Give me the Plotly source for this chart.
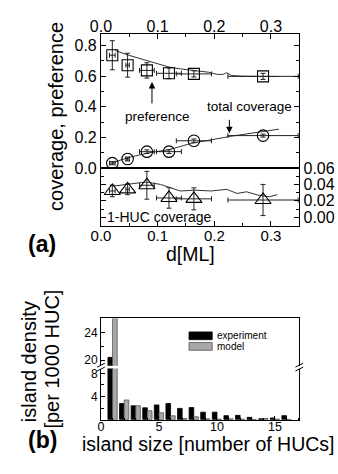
import plotly.graph_objects as go

W, H = 338, 474
FONT = "Liberation Sans"

# ---------------- panel (a) data ----------------
d_ml = [0.020, 0.047, 0.081, 0.120, 0.164, 0.286]
d_err = [0.005, 0.003, 0.013, 0.022, 0.031, 0.062]
preference = [0.737, 0.672, 0.638, 0.619, 0.615, 0.599]
preference_err = [0.095, 0.078, 0.050, 0.035, 0.020, 0.020]
total_cov = [0.032, 0.059, 0.107, 0.107, 0.178, 0.212]
total_cov_err = [0.010, 0.012, 0.012, 0.012, 0.012, 0.010]
huc1_cov = [0.032, 0.034, 0.039, 0.0235, 0.0224, 0.021]
huc1_cov_err = [0.007, 0.0065, 0.017, 0.0125, 0.0134, 0.019]

pref_model_d = [0.025, 0.048, 0.083, 0.120, 0.140, 0.164, 0.190, 0.205, 0.215, 0.222, 0.230, 0.250, 0.280, 0.314]
pref_model = [0.768, 0.738, 0.700, 0.660, 0.648, 0.638, 0.626, 0.612, 0.612, 0.623, 0.605, 0.600, 0.598, 0.598]

cov_model_d = [0.020, 0.050, 0.085, 0.120, 0.160, 0.200, 0.230, 0.270, 0.314]
cov_model = [0.035, 0.070, 0.100, 0.120, 0.162, 0.190, 0.208, 0.230, 0.254]

huc1_model_d = [0.022, 0.060, 0.080, 0.105, 0.140, 0.166, 0.194, 0.222, 0.240, 0.257, 0.277, 0.297, 0.311]
huc1_model = [0.038, 0.041, 0.043, 0.040, 0.032, 0.033, 0.032, 0.034, 0.029, 0.031, 0.027, 0.025, 0.0275]

# ---------------- panel (b) data ----------------
island_size = list(range(1, 17))
density_experiment = [20.4, 2.8, 2.4, 2.05, 2.55, 2.8, 1.95, 2.1, 1.3, 1.3, 0.7, 0.75, 0.4, 0.17, 0.3, 0.7]
density_model = [26.0, 3.4, 2.4, 1.55, 1.2, 0.67, 0.2, 0.5, 0.15, 0.1, 0.15, 0.1, 0.05, 0.2, 0.1, 0.05]


def px(x):
    return x / W


def py(y):
    return 1 - y / H


XD = [px(93), px(298)]
YA_up = [py(166), py(27)]
YA_lo = [py(226), py(166)]
YB_up = [py(371), py(322)]
YB_lo = [py(427), py(374)]

ERR = dict(type="data", thickness=1, width=2.5, color="#222")

fig = go.Figure()

# preference
fig.add_trace(go.Scatter(x=pref_model_d, y=pref_model, mode="lines", xaxis="x2", yaxis="y",
                         line=dict(color="#333", width=1), showlegend=False))
fig.add_trace(go.Scatter(x=d_ml, y=preference, mode="markers", xaxis="x2", yaxis="y",
                         marker=dict(symbol="square-open", size=11, color="black", line=dict(width=1.1)),
                         error_x=dict(array=d_err, **ERR), error_y=dict(array=preference_err, **ERR),
                         showlegend=False))
# total coverage
fig.add_trace(go.Scatter(x=cov_model_d, y=cov_model, mode="lines", xaxis="x2", yaxis="y",
                         line=dict(color="#333", width=1), showlegend=False))
fig.add_trace(go.Scatter(x=d_ml, y=total_cov, mode="markers", xaxis="x2", yaxis="y",
                         marker=dict(symbol="circle-open", size=11.5, color="black", line=dict(width=1.1)),
                         error_x=dict(array=d_err, **ERR), error_y=dict(array=total_cov_err, **ERR),
                         showlegend=False))
# 1-HUC coverage
fig.add_trace(go.Scatter(x=huc1_model_d, y=huc1_model, mode="lines", xaxis="x", yaxis="y2",
                         line=dict(color="#333", width=1), showlegend=False))
fig.add_trace(go.Scatter(x=d_ml, y=huc1_cov, mode="markers", xaxis="x", yaxis="y2",
                         marker=dict(symbol="triangle-up-open", size=14, color="black", line=dict(width=1.1)),
                         error_x=dict(array=d_err, **ERR), error_y=dict(array=huc1_cov_err, **ERR),
                         showlegend=False))

# bars (broken axis: lower and upper segments)
for xa, ya in (("x3", "y3"), ("x4", "y4")):
    fig.add_trace(go.Bar(x=island_size, y=density_experiment, xaxis=xa, yaxis=ya, name="experiment",
                         marker=dict(color="black", line=dict(color="black", width=0.8)), showlegend=False))
    fig.add_trace(go.Bar(x=island_size, y=density_model, xaxis=xa, yaxis=ya, name="model",
                         marker=dict(color="#a8a8a8", line=dict(color="#555", width=0.8)), showlegend=False))

base_ax = dict(showline=True, linecolor="black", linewidth=1, ticks="inside", tickcolor="black",
               showgrid=False, zeroline=False, tickfont=dict(family=FONT, size=16, color="black"))

fig.update_layout(
    width=W, height=H, autosize=False,
    margin=dict(l=0, r=0, t=0, b=0, pad=0),
    paper_bgcolor="white", plot_bgcolor="rgba(0,0,0,0)",
    barmode="group", bargap=0.2, bargroupgap=0,
    showlegend=False,
    font=dict(family=FONT, color="black"),
    xaxis=dict(base_ax, domain=XD, anchor="y2", range=[0, 0.35], tick0=0, dtick=0.1, tickformat=".1f",
               ticklen=5, mirror=True, ticklabelstandoff=-4,
               tickfont=dict(family=FONT, size=15, color="black"),
               minor=dict(ticks="inside", ticklen=3, dtick=0.05, tickcolor="black")),
    xaxis2=dict(base_ax, domain=XD, anchor="y", side="top", matches="x", range=[0, 0.35], tick0=0, dtick=0.1,
                tickformat=".1f", ticklen=5, mirror=True, ticklabelstandoff=-5,
                minor=dict(ticks="inside", ticklen=3, dtick=0.05, tickcolor="black")),
    yaxis=dict(base_ax, domain=YA_up, anchor="x2", side="left", range=[0, 0.8756], tick0=0, dtick=0.2,
               tickformat=".1f", ticklen=5, mirror="ticks",
               minor=dict(ticks="inside", ticklen=3, dtick=0.1, tickcolor="black")),
    yaxis2=dict(base_ax, domain=YA_lo, anchor="x", side="right", range=[-0.0106, 0.06], tick0=0, dtick=0.02,
                tickformat=".2f", ticklen=5, mirror="ticks",
                minor=dict(ticks="inside", ticklen=3, dtick=0.01, tickcolor="black")),
    xaxis3=dict(base_ax, domain=XD, anchor="y3", range=[0, 17.1], tick0=0, dtick=5, ticklen=4,
                ticklabelstandoff=-5,
                tickfont=dict(family=FONT, size=12.5, color="black"),
                minor=dict(ticks="inside", ticklen=2, dtick=1, tickcolor="black")),
    yaxis3=dict(base_ax, domain=YB_lo, anchor="x3", range=[0, 8.83], tickvals=[4, 8], ticklen=4, mirror=True,
                tickfont=dict(family=FONT, size=12, color="black"),
                minor=dict(ticks="inside", ticklen=3, tickvals=[2, 6], tickcolor="black")),
    xaxis4=dict(base_ax, domain=XD, anchor="y4", side="top", matches="x3", range=[0, 17.1],
                ticks="", showticklabels=False),
    yaxis4=dict(base_ax, domain=YB_up, anchor="x4", range=[19.2, 26], tickvals=[20, 24], ticklen=4, mirror=True,
                tickfont=dict(family=FONT, size=12, color="black"),
                minor=dict(ticks="inside", ticklen=3, tickvals=[22], tickcolor="black")),
)

ann_font = dict(family=FONT, size=13.5, color="black")
title_font = dict(family=FONT, size=20, color="black")
C = dict(xanchor="center", yanchor="middle", showarrow=False)
annotations = [
    dict(text="preference", x=0.10, y=0.34, xref="x2", yref="y", font=ann_font, **C),
    dict(text="", x=0.09, y=0.5625, xref="x2", yref="y", showarrow=True, ax=0, ay=23,
         arrowhead=2, arrowsize=1.3, arrowwidth=1, arrowcolor="black", standoff=0),
    dict(text="total coverage", x=0.2625, y=0.399, xref="x2", yref="y", font=ann_font, **C),
    dict(text="", x=0.2266, y=0.227, xref="x2", yref="y", showarrow=True, ax=0, ay=-15,
         arrowhead=2, arrowsize=1.3, arrowwidth=1, arrowcolor="black", standoff=0),
    dict(text="1-HUC coverage", x=0.1025, y=0.0, xref="x", yref="y2",
         font=dict(family=FONT, size=14, color="black"), **C),
    dict(text="coverage, preference", x=px(46.5), y=py(112), xref="paper", yref="paper", textangle=-90,
         font=title_font, **C),
    dict(text="d[ML]", x=px(186), y=py(255), xref="paper", yref="paper",
         font=dict(family=FONT, size=19.5, color="black"), **C),
    dict(text="<b>(a)</b>", x=px(32.5), y=py(245), xref="paper", yref="paper",
         font=dict(family=FONT, size=23, color="black"), **C),
    dict(text="island density", x=px(18), y=py(367), xref="paper", yref="paper",
         textangle=-90, font=title_font, **C),
    dict(text="[per 1000 HUC]", x=px(42), y=py(364), xref="paper", yref="paper",
         textangle=-90, font=title_font, **C),
    dict(text="island size [number of HUCs]", x=px(204), y=py(452), xref="paper", yref="paper",
         font=dict(family=FONT, size=19.5, color="black"), **C),
    dict(text="<b>(b)</b>", x=px(33), y=py(448.5), xref="paper", yref="paper",
         font=dict(family=FONT, size=23, color="black"), **C),
    dict(text="experiment", x=px(211), y=py(339.5), xref="paper", yref="paper", xanchor="left",
         yanchor="middle", showarrow=False, font=dict(family=FONT, size=10, color="black")),
    dict(text="model", x=px(211), y=py(351.5), xref="paper", yref="paper", xanchor="left",
         yanchor="middle", showarrow=False, font=dict(family=FONT, size=10, color="black")),
]
fig.update_layout(annotations=annotations)

shapes = [
    dict(type="rect", xref="paper", yref="paper", x0=px(184), x1=px(208), y0=py(344), y1=py(336),
         fillcolor="black", line=dict(color="black", width=0.8)),
    dict(type="rect", xref="paper", yref="paper", x0=px(184), x1=px(208), y0=py(355), y1=py(347),
         fillcolor="#a8a8a8", line=dict(color="#555", width=0.8)),
]
# axis break marks
for xc in (93, 298):
    for dy in (-2, 2):
        shapes.append(dict(type="line", xref="paper", yref="paper",
                           x0=px(xc - 4), y0=py(372.5 + dy + 2), x1=px(xc + 4), y1=py(372.5 + dy - 2),
                           line=dict(color="black", width=1)))
fig.update_layout(shapes=shapes)

fig.write_html("out.html")
